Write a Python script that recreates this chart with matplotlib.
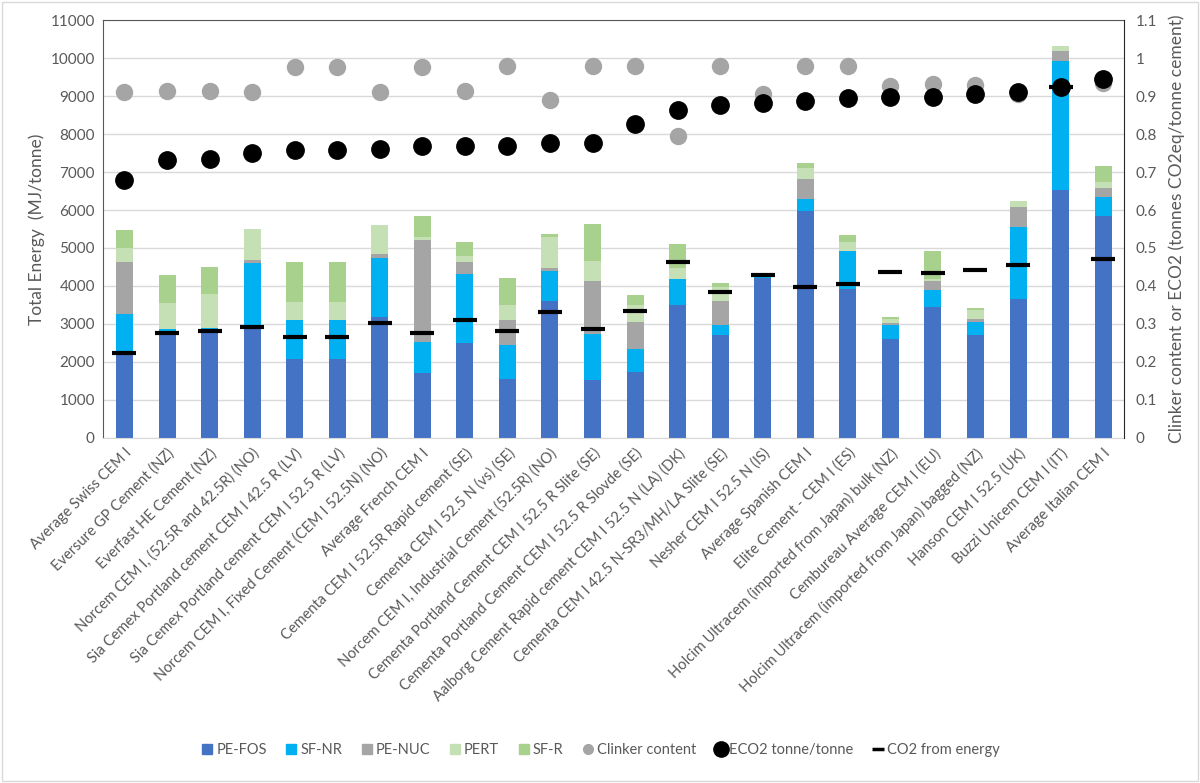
import matplotlib
matplotlib.use("Agg")
from matplotlib import pyplot as plt
from matplotlib.lines import Line2D
from matplotlib.patches import Rectangle
import numpy as np

plt.rcParams['font.family'] = ['Lato', 'DejaVu Sans']

cements = [
  "Average Swiss CEM I",
  "Eversure GP Cement (NZ)",
  "Everfast HE Cement (NZ)",
  "Norcem CEM I, (52.5R and 42.5R) (NO)",
  "Sia Cemex Portland cement CEM I 42.5 R (LV)",
  "Sia Cemex Portland cement CEM I 52.5 R (LV)",
  "Norcem CEM I, Fixed Cement (CEM I 52.5N) (NO)",
  "Average French CEM I",
  "Cementa CEM I 52.5R Rapid cement (SE)",
  "Cementa CEM I 52.5 N (vs) (SE)",
  "Norcem CEM I, Industrial Cement (52.5R) (NO)",
  "Cementa Portland Cement CEM I 52.5 R Slite (SE)",
  "Cementa Portland Cement CEM I 52.5 R Slovde (SE)",
  "Aalborg Cement Rapid cement CEM I 52.5 N (LA) (DK)",
  "Cementa CEM I 42.5 N-SR3/MH/LA Slite (SE)",
  "Nesher CEM I 52.5 N (IS)",
  "Average Spanish CEM I",
  "Elite Cement - CEM I (ES)",
  "Holcim Ultracem (imported from Japan) bulk (NZ)",
  "Cembureau Average CEM I (EU)",
  "Holcim Ultracem (imported from Japan) bagged (NZ)",
  "Hanson CEM I 52.5 (UK)",
  "Buzzi Unicem CEM I (IT)",
  "Average Italian CEM I",
]

pe_fos = [2220, 2800, 2850, 2980, 2080, 2080, 3180, 1700, 2500, 1550, 3610, 1530,
          1730, 3500, 2710, 4220, 5970, 3920, 2610, 3450, 2700, 3660, 6540, 5850]
sf_nr = [1050, 70, 50, 1620, 1020, 1020, 1560, 820, 1820, 890, 790, 1210,
         620, 690, 270, 40, 330, 1010, 350, 440, 360, 1900, 3380, 500]
pe_nuc = [1350, 0, 0, 80, 0, 0, 100, 2690, 300, 660, 80, 1390,
          710, 0, 610, 0, 520, 0, 70, 250, 80, 530, 260, 240]
pert = [380, 690, 890, 820, 480, 480, 770, 80, 160, 400, 800, 530,
        440, 290, 380, 0, 280, 230, 90, 30, 230, 150, 150, 150]
sf_r = [470, 720, 710, 0, 1050, 1050, 0, 550, 380, 710, 100, 970,
        270, 620, 120, 0, 140, 190, 60, 760, 60, 0, 0, 420]

clinker = [0.91, 0.915, 0.915, 0.91, 0.978, 0.978, 0.91, 0.978, 0.913, 0.979, 0.889, 0.979,
           0.979, 0.794, 0.979, 0.907, 0.979, 0.979, 0.927, 0.931, 0.929, 0.905, 0.925, 0.935]
eco2 = [0.68, 0.732, 0.735, 0.75, 0.757, 0.757, 0.76, 0.768, 0.768, 0.77, 0.776, 0.778,
        0.828, 0.863, 0.876, 0.883, 0.887, 0.895, 0.899, 0.899, 0.905, 0.91, 0.925, 0.945]
co2_energy = [0.222, 0.277, 0.28, 0.293, 0.266, 0.266, 0.303, 0.277, 0.311, 0.28, 0.33, 0.287,
              0.335, 0.464, 0.385, 0.43, 0.396, 0.404, 0.437, 0.433, 0.441, 0.454, 0.925, 0.472]

segmentos = [
  ("PE-FOS", pe_fos, "#4472C4"),
  ("SF-NR", sf_nr, "#00B0F0"),
  ("PE-NUC", pe_nuc, "#A5A5A5"),
  ("PERT", pert, "#C5E0B4"),
  ("SF-R", sf_r, "#A9D18E"),
]

cinza = "#595959"

fig = plt.figure(figsize=(12, 7.83), dpi=100)
ax = fig.add_axes([0.086, 0.441, 0.851, 0.533])
xs = np.arange(len(cements))

base = np.zeros(len(cements))
for nome, vals, cor in segmentos:
  ax.bar(xs, vals, 0.4, bottom=base, color=cor, zorder=2)
  base += np.array(vals)

ax.set_ylim(0, 11000)
ax.set_xlim(-0.5, len(cements) - 0.5)
ax.set_yticks(range(0, 11001, 1000))
ax.yaxis.grid(True, color="#D9D9D9", linewidth=1, zorder=0)
ax.set_axisbelow(True)
ax.set_xticks(xs)
ax.set_xticklabels(cements, rotation=45, ha="right", rotation_mode="anchor",
                   fontsize=10.5, color=cinza)
ax.tick_params(axis="x", length=0, pad=6)
ax.tick_params(axis="y", length=0, labelsize=11, labelcolor=cinza, pad=6)
ax.set_ylabel("Total Energy  (MJ/tonne)", fontsize=12.5, color=cinza)
ax.spines["left"].set_color("#595959")
ax.spines["top"].set_color("#595959")
ax.spines["right"].set_visible(False)
ax.spines["bottom"].set_color("#D9D9D9")

ax2 = ax.twinx()
ax2.set_ylim(0, 1.1)
ax2.set_yticks([i / 10 for i in range(12)])
ax2.set_yticklabels(["0", "0.1", "0.2", "0.3", "0.4", "0.5", "0.6", "0.7", "0.8",
                     "0.9", "1", "1.1"])
ax2.tick_params(axis="y", length=0, labelsize=11, labelcolor=cinza, pad=8)
ax2.set_ylabel("Clinker content or ECO2 (tonnes CO2eq/tonne cement)", fontsize=12.5,
               color=cinza, labelpad=8)
ax2.spines["right"].set_color("#262626")
ax2.spines["left"].set_visible(False)
ax2.spines["top"].set_visible(False)
ax2.spines["bottom"].set_visible(False)

ax2.plot(xs, clinker, linestyle="none", marker="o", markersize=11.5,
         color="#A5A5A5", zorder=3)
ax2.plot(xs, co2_energy, linestyle="none", marker="_", markersize=17,
         markeredgewidth=3, color="black", zorder=4)
ax2.plot(xs, eco2, linestyle="none", marker="o", markersize=12.5,
         color="black", zorder=5)

handles = [Line2D([], [], linestyle="none", marker="s", markersize=7, color=c)
           for _, _, c in segmentos]
handles += [
  Line2D([], [], linestyle="none", marker="o", markersize=7, color="#A5A5A5"),
  Line2D([], [], linestyle="none", marker="o", markersize=11, color="black"),
  Line2D([], [], linestyle="none", marker="_", markersize=9, markeredgewidth=2.5,
         color="black"),
]
rotulos = [n for n, _, _ in segmentos] + ["Clinker content", "ECO2 tonne/tonne",
                                          "CO2 from energy"]
fig.legend(handles, rotulos, loc="center", bbox_to_anchor=(0.5, 0.042), ncol=8,
           frameon=False, fontsize=10.5, labelcolor=cinza, handletextpad=0.1,
           columnspacing=1.2, handlelength=1.0)

fig.add_artist(Rectangle((0.002, 0.002), 0.996, 0.996, transform=fig.transFigure,
                         fill=False, edgecolor="#D9D9D9", linewidth=1))

fig.savefig("out.png", dpi=100)
